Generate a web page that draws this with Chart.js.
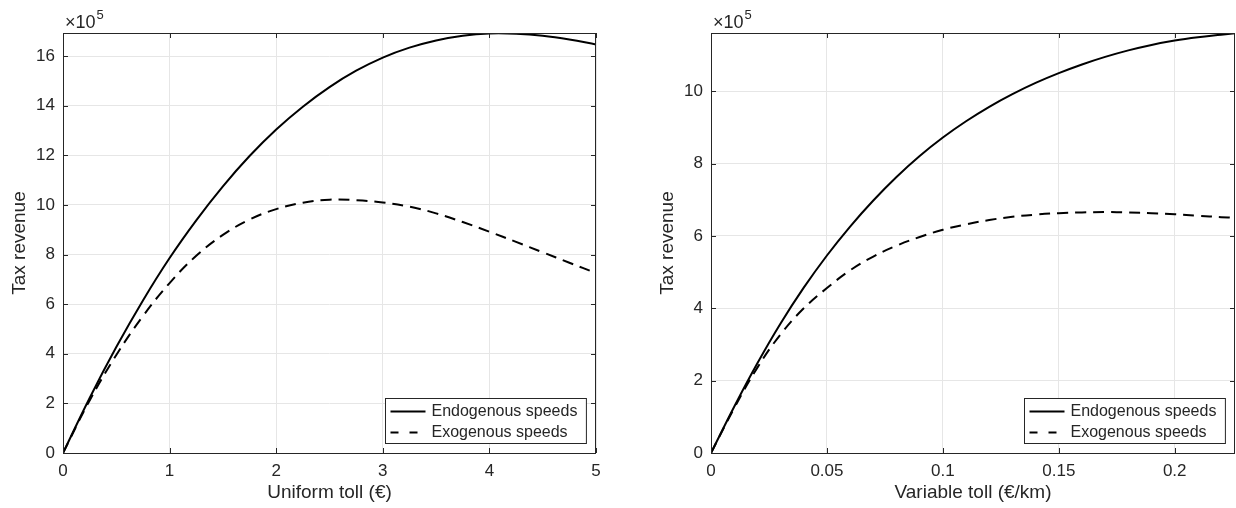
<!DOCTYPE html>
<html>
<head>
<meta charset="utf-8">
<script src="https://cdn.jsdelivr.net/npm/chart.js@4.4.0/dist/chart.umd.min.js"></script>
<style>
    body { margin: 0; background: #fff; width: 1236px; height: 508px; overflow: hidden; position: relative; }
    .panel { position: absolute; top: 0; width: 618px; height: 508px; }
</style>
</head>
<body>
<div class="panel" style="left:0"><canvas id="uniform-chart" width="618" height="508"></canvas></div>
<div class="panel" style="left:618px"><canvas id="variable-chart" width="618" height="508"></canvas></div>
<script>
// Uniform toll panel (values in units of 1e5)
const uniformToll = [0, 0.25, 0.5, 0.75, 1, 1.25, 1.5, 1.75, 2, 2.25, 2.5, 2.75, 3, 3.25, 3.5, 3.75, 4, 4.25, 4.5, 4.75, 5];
const uniformEndo = [0, 2.22, 4.27, 6.15, 7.86, 9.38, 10.75, 11.97, 13.04, 13.96, 14.75, 15.41, 15.94, 16.34, 16.63, 16.82, 16.91, 16.9, 16.82, 16.67, 16.47];
const uniformExo  = [0, 2.12, 3.95, 5.52, 6.85, 7.95, 8.79, 9.41, 9.83, 10.09, 10.21, 10.19, 10.1, 9.93, 9.66, 9.31, 8.92, 8.51, 8.09, 7.67, 7.25];
const uniformXTicks = [0, 1, 2, 3, 4, 5];
const uniformYTicks = [0, 2, 4, 6, 8, 10, 12, 14, 16];

// Variable toll panel (values in units of 1e5)
const variableToll = [0, 0.01, 0.02, 0.03, 0.04, 0.05, 0.06, 0.07, 0.08, 0.09, 0.1, 0.11, 0.12, 0.13, 0.14, 0.15, 0.16, 0.17, 0.18, 0.19, 0.2, 0.21, 0.22, 0.226];
const variableEndo = [0, 1.28, 2.48, 3.58, 4.57, 5.46, 6.26, 6.98, 7.63, 8.21, 8.72, 9.17, 9.57, 9.92, 10.23, 10.5, 10.74, 10.95, 11.13, 11.28, 11.4, 11.49, 11.56, 11.6];
const variableExo  = [0, 1.24, 2.36, 3.28, 4.0, 4.56, 5.05, 5.43, 5.73, 5.97, 6.17, 6.32, 6.44, 6.53, 6.59, 6.63, 6.65, 6.66, 6.65, 6.63, 6.6, 6.56, 6.52, 6.5];
const variableXTicks = [0, 0.05, 0.1, 0.15, 0.2];
const variableYTicks = [0, 2, 4, 6, 8, 10];

const seriesLabels = ['Endogenous speeds', 'Exogenous speeds'];

const FONT = '"Liberation Sans", Arial, Helvetica, sans-serif';
const AXIS_COLOR = '#262626';

// Draws MATLAB-like box, inner ticks, exponent and legend
const matlabAxes = {
    id: 'matlabAxes',
    afterDraw(chart) {
        const ctx = chart.ctx;
        const { left, right, top, bottom } = chart.chartArea;
        const xs = chart.scales.x;
        const ys = chart.scales.y;
        ctx.save();
        ctx.strokeStyle = AXIS_COLOR;
        ctx.lineWidth = 1;
        ctx.setLineDash([]);

        // tick marks pointing inwards on all sides
        ctx.beginPath();
        xs.ticks.forEach(t => {
            const px = Math.round(xs.getPixelForValue(t.value)) + 0.5;
            ctx.moveTo(px, bottom); ctx.lineTo(px, bottom - 5);
            ctx.moveTo(px, top); ctx.lineTo(px, top + 5);
        });
        ys.ticks.forEach(t => {
            const py = Math.round(ys.getPixelForValue(t.value)) + 0.5;
            ctx.moveTo(left, py); ctx.lineTo(left + 5, py);
            ctx.moveTo(right, py); ctx.lineTo(right - 5, py);
        });
        ctx.stroke();

        // axes box
        ctx.strokeRect(Math.round(left) + 0.5, Math.round(top) + 0.5, Math.round(right - left) - 1, Math.round(bottom - top));

        // x10^5 exponent
        ctx.fillStyle = AXIS_COLOR;
        ctx.textBaseline = 'alphabetic';
        ctx.textAlign = 'left';
        ctx.font = '18px ' + FONT;
        ctx.fillText('\u00d710', left + 2, 28);
        const w = ctx.measureText('\u00d710').width;
        ctx.font = '13px ' + FONT;
        ctx.fillText('5', left + 2 + w + 1, 19);

        // legend box in the lower right corner
        ctx.font = '16px ' + FONT;
        const textW = Math.max(...chart.data.datasets.map(d => ctx.measureText(d.label).width));
        const boxW = 5 + 35 + 6 + textW + 9;
        const boxH = 45;
        const bx = Math.round(right - 10 - boxW) + 0.5;
        const by = Math.round(bottom - 10 - boxH) + 0.5;
        ctx.fillStyle = '#fff';
        ctx.fillRect(bx, by, boxW, boxH);
        ctx.strokeRect(bx, by, boxW, boxH);
        chart.data.datasets.forEach((d, i) => {
            const cy = by + 13 + i * 21;
            ctx.beginPath();
            ctx.lineWidth = 2;
            ctx.strokeStyle = d.borderColor;
            ctx.setLineDash(d.borderDash ? [8, 11] : []);
            ctx.moveTo(bx + 5, cy);
            ctx.lineTo(bx + 40, cy);
            ctx.stroke();
            ctx.setLineDash([]);
            ctx.fillStyle = AXIS_COLOR;
            ctx.textBaseline = 'middle';
            ctx.fillText(d.label, bx + 46, cy);
        });
        ctx.restore();
    }
};

function toPoints(xs, ys) {
    return xs.map((x, i) => ({ x: x, y: ys[i] }));
}

function createPanel(canvasId, xVals, endo, exo, xTicks, yTicks, xMax, yMax, xTitle, padLeft, padRight) {
    const ctx = document.getElementById(canvasId);
    return new Chart(ctx, {
        type: 'line',
        data: {
            datasets: [{
                label: seriesLabels[0],
                data: toPoints(xVals, endo),
                borderColor: '#000',
                borderWidth: 2,
                pointRadius: 0,
                tension: 0.4,
                fill: false
            }, {
                label: seriesLabels[1],
                data: toPoints(xVals, exo),
                borderColor: '#000',
                borderWidth: 2,
                borderDash: [11, 7],
                pointRadius: 0,
                tension: 0.4,
                fill: false
            }]
        },
        options: {
            responsive: false,
            animation: false,
            events: [],
            layout: { padding: { left: padLeft, right: padRight, top: 33, bottom: 0 } },
            plugins: {
                legend: { display: false },
                tooltip: { enabled: false }
            },
            scales: {
                x: {
                    type: 'linear',
                    min: 0,
                    max: xMax,
                    afterBuildTicks: scale => { scale.ticks = xTicks.map(v => ({ value: v })); },
                    afterFit: scale => { scale.height = 55; },
                    grid: { color: '#e6e6e6', drawTicks: false },
                    border: { display: false },
                    ticks: {
                        color: AXIS_COLOR,
                        padding: 8,
                        maxRotation: 0,
                        font: { family: FONT, size: 17 },
                        callback: v => String(v)
                    },
                    title: {
                        display: true,
                        text: xTitle,
                        color: AXIS_COLOR,
                        font: { family: FONT, size: 19 },
                        padding: { top: 4, bottom: 4 }
                    }
                },
                y: {
                    min: 0,
                    max: yMax,
                    afterBuildTicks: scale => { scale.ticks = yTicks.map(v => ({ value: v })); },
                    afterFit: scale => { scale.width = 57; },
                    grid: { color: '#e6e6e6', drawTicks: false },
                    border: { display: false },
                    ticks: {
                        color: AXIS_COLOR,
                        padding: 8,
                        font: { family: FONT, size: 17 },
                        callback: v => String(v)
                    },
                    title: {
                        display: true,
                        text: 'Tax revenue',
                        color: AXIS_COLOR,
                        font: { family: FONT, size: 19 },
                        padding: { top: 2, bottom: 2 }
                    }
                }
            }
        },
        plugins: [matlabAxes]
    });
}

createPanel('uniform-chart', uniformToll, uniformEndo, uniformExo, uniformXTicks, uniformYTicks,
    5, 16.93, 'Uniform toll (\u20ac)', 6, 22);
createPanel('variable-chart', variableToll, variableEndo, variableExo, variableXTicks, variableYTicks,
    0.226, 11.61, 'Variable toll (\u20ac/km)', 36, 1);
</script>
</body>
</html>
